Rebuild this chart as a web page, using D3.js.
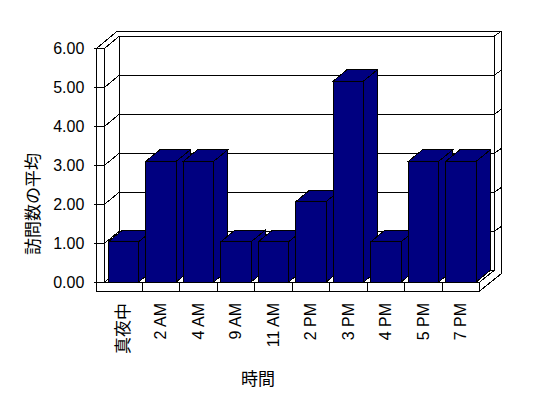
<!DOCTYPE html>
<html>
<head>
<meta charset="utf-8">
<script src="https://cdn.jsdelivr.net/npm/d3@7"></script>
<style>
  body { margin: 0; background: #fff; }
  svg { display: block; }
  text { font-family: "Liberation Sans", Arial, "Noto Sans CJK JP", sans-serif; fill: #000; }
</style>
</head>
<body>
<script>
const categories = ["真夜中", "2 AM", "4 AM", "9 AM", "11 AM", "2 PM", "3 PM", "4 PM", "5 PM", "7 PM"];
const values = [1, 3, 3, 1, 1, 2, 5, 1, 3, 3];
const tickValues = [0, 1, 2, 3, 4, 5, 6];
const yTitle = "訪問数の平均";
const xTitle = "時間";

const W = 548, H = 398;
const svg = d3.select("body").append("svg").attr("width", W).attr("height", H);

// geometry
const frontLeft = 104.7, frontRight = 479.7, baseY = 282, floorBottom = 291;
const wallOuterX = 96.7;
const depthX = 14.6, depthY = -11.7;      // plot depth
const barDX = 14, barDY = -11.5;          // bar depth
const backTop = 36, outerTop = 31, outerRight = 501.7;

const xCat = d3.scaleBand().domain(categories).range([frontLeft, frontRight]);
const xBar = d3.scaleBand().domain(categories).range([frontLeft, frontRight])
  .paddingInner(0.19).paddingOuter(0.095);
const yFront = d3.scaleLinear().domain([0, 6]).range([baseY, 48.3]);
const yBack = d3.scaleLinear().domain([0, 6]).range([baseY + depthY, backTop]);
const yBar = d3.scaleLinear().domain([0, 6]).range([baseY, baseY - 6 * 40.2]);

const g = svg.append("g").attr("stroke", "#000").attr("stroke-width", 1)
  .attr("shape-rendering", "crispEdges");

const backRight = frontRight + depthX;

// outer outline
g.append("path")
  .attr("d", `M${wallOuterX},${yFront(6)} L${wallOuterX + 20.6},${outerTop} L${outerRight},${outerTop} L${outerRight},${baseY - 8.7} L${frontRight},${floorBottom} L${wallOuterX},${floorBottom} Z`)
  .attr("fill", "#fff");

// back wall front face
g.append("rect")
  .attr("x", frontLeft + depthX).attr("y", backTop)
  .attr("width", backRight - (frontLeft + depthX)).attr("height", yBack(0) - backTop)
  .attr("fill", "#fff");

// back wall gridlines
g.selectAll("line.grid").data(tickValues.filter(v => v > 0 && v < 6)).join("line")
  .attr("class", "grid")
  .attr("x1", frontLeft + depthX).attr("x2", backRight)
  .attr("y1", d => yBack(d)).attr("y2", d => yBack(d));

// left wall diagonal gridlines
g.selectAll("line.lgrid").data(tickValues).join("line")
  .attr("class", "lgrid")
  .attr("x1", frontLeft).attr("y1", d => yFront(d))
  .attr("x2", frontLeft + depthX).attr("y2", d => yBack(d));

// right side small diagonals
g.selectAll("line.rgrid").data(tickValues.filter(v => v > 0)).join("line")
  .attr("class", "rgrid")
  .attr("x1", backRight).attr("y1", d => yBack(d))
  .attr("x2", outerRight).attr("y2", d => yBack(d) - 5);

// left wall inner edge and top
g.append("line").attr("x1", frontLeft).attr("x2", frontLeft).attr("y1", yFront(6)).attr("y2", baseY);
g.append("line").attr("x1", wallOuterX).attr("x2", frontLeft).attr("y1", yFront(6)).attr("y2", yFront(6));

// floor
g.append("line").attr("x1", frontLeft).attr("x2", frontRight).attr("y1", baseY).attr("y2", baseY);
g.append("line").attr("x1", frontRight).attr("x2", frontRight).attr("y1", baseY).attr("y2", floorBottom);
g.append("line").attr("x1", frontRight).attr("y1", baseY).attr("x2", backRight).attr("y2", yBack(0));

// category boundary ticks on floor front
g.selectAll("line.ctick").data(categories.slice(1)).join("line")
  .attr("class", "ctick")
  .attr("x1", d => xCat(d)).attr("x2", d => xCat(d))
  .attr("y1", baseY).attr("y2", floorBottom);

// bars
const bars = g.append("g").attr("fill", "#000080");
categories.forEach((c, i) => {
  const x0 = xBar(c), w = xBar.bandwidth(), yt = yBar(values[i]);
  const b = bars.append("g");
  b.append("path").attr("d",
    `M${x0 + w},${yt} L${x0 + w + barDX},${yt + barDY} L${x0 + w + barDX},${baseY + barDY} L${x0 + w},${baseY} Z`);
  b.append("path").attr("d",
    `M${x0},${yt} L${x0 + w},${yt} L${x0 + w + barDX},${yt + barDY} L${x0 + barDX},${yt + barDY} Z`);
  b.append("rect").attr("x", x0).attr("y", yt).attr("width", w).attr("height", baseY - yt);
});

// y axis (ticks across wall front face + labels)
const yAxis = d3.axisLeft(yFront).tickValues(tickValues)
  .tickFormat(d3.format(".2f")).tickSizeInner(10.7).tickSizeOuter(0).tickPadding(9.7);
const ya = svg.append("g").attr("transform", `translate(${frontLeft},0)`)
  .attr("shape-rendering", "crispEdges").call(yAxis);
ya.select(".domain").remove();
ya.selectAll("text").attr("font-size", 16).attr("fill", "#000")
  .style("font-family", '"Liberation Sans", Arial, sans-serif');

// x labels (rotated)
const xAxis = d3.axisBottom(xCat).tickSize(0).tickPadding(0);
const xa = svg.append("g").attr("transform", `translate(0,${baseY})`).call(xAxis);
xa.select(".domain").remove();
xa.selectAll("text")
  .attr("font-size", d => /[^\x00-\x7F]/.test(d) ? 17 : 16)
  .attr("fill", "#000")
  .attr("text-anchor", "end")
  .attr("dy", null)
  .attr("y", null)
  .attr("dominant-baseline", "central")
  .attr("transform", "translate(0,21) rotate(-90)");

// titles
svg.append("text")
  .attr("transform", "translate(31,204) rotate(-90)")
  .attr("text-anchor", "middle").attr("dominant-baseline", "central")
  .attr("font-size", 17).attr("fill", "#000")
  .style("font-family", '"Noto Sans CJK JP", sans-serif')
  .text(yTitle);

svg.append("text")
  .attr("x", 258).attr("y", 377)
  .attr("text-anchor", "middle").attr("dominant-baseline", "central")
  .attr("font-size", 17).attr("fill", "#000")
  .style("font-family", '"Noto Sans CJK JP", sans-serif')
  .text(xTitle);
</script>
</body>
</html>
